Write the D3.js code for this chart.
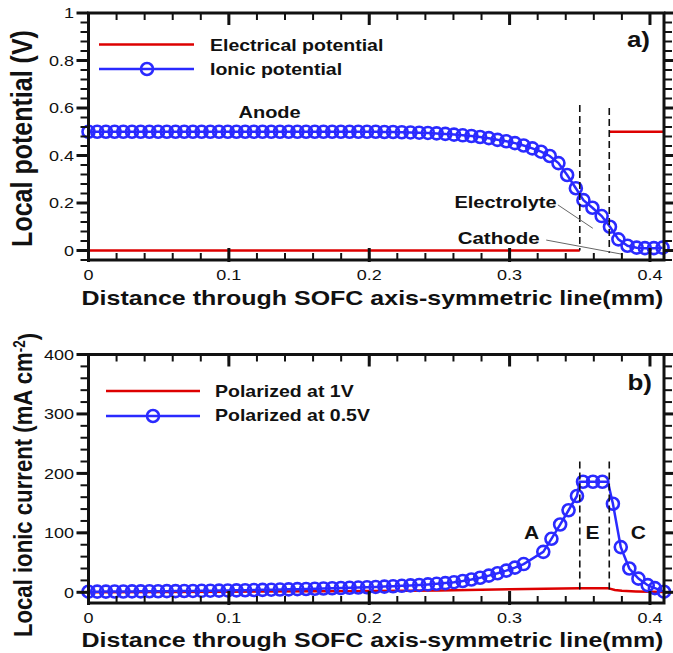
<!DOCTYPE html>
<html>
<head>
<meta charset="utf-8">
<script src="https://cdn.jsdelivr.net/npm/d3@7"></script>
<style>
  body { margin: 0; background: #fff; }
  text { font-family: "Liberation Sans", Arial, sans-serif; fill: #111; }
</style>
</head>
<body>
<div id="chart"></div>
<script>
// ---- panel a) : local potential ----
var potX = [0, 0.0062, 0.0124, 0.0186, 0.0248, 0.031, 0.0372, 0.0434, 0.0496, 0.0558,
  0.062, 0.0682, 0.0744, 0.0806, 0.0868, 0.093, 0.0992, 0.1054, 0.1116, 0.1178,
  0.124, 0.1302, 0.1364, 0.1426, 0.1488, 0.155, 0.1612, 0.1674, 0.1736, 0.1798,
  0.186, 0.1922, 0.1984, 0.2046, 0.2108, 0.217, 0.2232, 0.2294, 0.2356, 0.2418,
  0.248, 0.2542, 0.2604, 0.2666, 0.2728, 0.279, 0.2852, 0.2914, 0.2976, 0.3038,
  0.31, 0.3162, 0.3224, 0.3286, 0.3348, 0.341, 0.3472,
  0.3526, 0.359, 0.3656, 0.3715, 0.3775, 0.384, 0.3905, 0.3964, 0.4028, 0.409];
var ionicPot = [0.5, 0.5, 0.5, 0.5, 0.5, 0.5, 0.5, 0.5, 0.5, 0.5,
  0.5, 0.5, 0.5, 0.5, 0.5, 0.5, 0.5, 0.5, 0.5, 0.5,
  0.5, 0.5, 0.5, 0.5, 0.5, 0.5, 0.5, 0.5, 0.5, 0.5,
  0.5, 0.5, 0.5, 0.5, 0.499, 0.499, 0.498, 0.497, 0.496, 0.495,
  0.493, 0.491, 0.488, 0.485, 0.482, 0.478, 0.473, 0.466, 0.46, 0.452,
  0.442, 0.43, 0.416, 0.398, 0.368, 0.318, 0.262,
  0.212, 0.18, 0.145, 0.1, 0.047, 0.02, 0.012, 0.01, 0.01, 0.012];
// electrical potential: anode side, then cathode side (null = break)
var elecX = [0, 0.35, 0.36, 0.371, 0.41];
var elecPot = [0, 0, null, 0.5, 0.5];

// ---- panel b) : local ionic current ----
var curX = [0, 0.0062, 0.0124, 0.0186, 0.0248, 0.031, 0.0372, 0.0434, 0.0496, 0.0558,
  0.062, 0.0682, 0.0744, 0.0806, 0.0868, 0.093, 0.0992, 0.1054, 0.1116, 0.1178,
  0.124, 0.1302, 0.1364, 0.1426, 0.1488, 0.155, 0.1612, 0.1674, 0.1736, 0.1798,
  0.186, 0.1922, 0.1984, 0.2046, 0.2108, 0.217, 0.2232, 0.2294, 0.2356, 0.2418,
  0.248, 0.2542, 0.2604, 0.2666, 0.2728, 0.279, 0.2852, 0.2914, 0.2976, 0.3038,
  0.31, 0.324, 0.3298, 0.336, 0.342, 0.348, 0.35,
  0.3523, 0.3594, 0.3661, 0.37,
  0.3736, 0.3792, 0.3853, 0.3918, 0.3984, 0.4035, 0.41];
var cur05V = [1.0, 1.1, 1.2, 1.3, 1.4, 1.5, 1.6, 1.7, 1.8, 1.9,
  2.0, 2.1, 2.3, 2.5, 2.7, 2.9, 3.1, 3.3, 3.5, 3.8,
  4.1, 4.4, 4.7, 5.0, 5.3, 5.6, 6.0, 6.4, 6.8, 7.2,
  7.6, 8.0, 8.5, 9.0, 9.6, 10.2, 10.9, 11.6, 12.4, 13.3,
  14.3, 15.5, 17.0, 19.0, 21.5, 24.5, 28.0, 32.0, 36.5, 41.5,
  47.5, 68, 90, 114, 138, 162, 186,
  186, 186, 186, 186,
  149, 76, 40, 23, 12, 7, 1];
// 1 = node drawn with a symbol, 0 = interface node (line only)
var curMark = [1, 1, 1, 1, 1, 1, 1, 1, 1, 1,
  1, 1, 1, 1, 1, 1, 1, 1, 1, 1,
  1, 1, 1, 1, 1, 1, 1, 1, 1, 1,
  1, 1, 1, 1, 1, 1, 1, 1, 1, 1,
  1, 1, 1, 1, 1, 1, 1, 1, 1, 1,
  1, 1, 1, 1, 1, 1, 0,
  1, 1, 1, 0,
  1, 1, 1, 1, 1, 1, 1];
var cur1VX = [0, 0.1, 0.2, 0.25, 0.3, 0.35, 0.37, 0.375, 0.38, 0.39, 0.4, 0.41];
var cur1V = [0, 1, 2, 3, 5, 7, 7, 4, 2.5, 1.5, 1, 0.5];

// ticks
var xTicks = [0, 0.1, 0.2, 0.3, 0.4];
var xTickLabels = ["0", "0.1", "0.2", "0.3", "0.4"];
var potTicks = [0, 0.2, 0.4, 0.6, 0.8, 1];
var potTickLabels = ["0", "0.2", "0.4", "0.6", "0.8", "1"];
var curTicks = [0, 100, 200, 300, 400];
var curTickLabels = ["0", "100", "200", "300", "400"];

var svgWidth = 673;
var svgHeight = 653;
var blue = "#2a2aff";
var red = "#dd0000";
var squash = 0.84;   // the original figure is vertically compressed
var symR = 6;

var svg = d3.select("#chart")
  .append("svg")
  .attr("width", svgWidth)
  .attr("height", svgHeight);

var x = d3.scaleLinear().domain([0, 0.41]).range([88.5, 664]);
var yPot = d3.scaleLinear().domain([-0.04, 1]).range([260, 13]);
var yCur = d3.scaleLinear().domain([-18, 400]).range([603, 354.5]);

function label(g, px, py, str, size, weight, anchor, rotated) {
  return g.append("text")
    .attr("transform", `translate(${px},${py}) scale(1,${squash})` + (rotated ? " rotate(-90)" : ""))
    .attr("font-size", size + "px")
    .attr("font-weight", weight)
    .attr("text-anchor", anchor)
    .text(str);
}

function seg(g, x1, y1, x2, y2, w) {
  g.append("line")
    .attr("x1", x1).attr("y1", y1)
    .attr("x2", x2).attr("y2", y2)
    .attr("stroke", "#111").attr("stroke-width", w);
}

function drawBox(g, y, yMajor, yMinor) {
  var x0 = x.range()[0], x1 = x.range()[1];
  var yb = y.range()[0], yTop = y.range()[1];
  var xMinor = d3.range(0, 0.4101, 0.02);
  // top & bottom: inward
  xMinor.forEach(function(v) {
    seg(g, x(v), yb, x(v), yb - 7, 2);
    seg(g, x(v), yTop, x(v), yTop + 7, 2);
  });
  xTicks.forEach(function(v) {
    seg(g, x(v), yb + 2, x(v), yb - 12, 3);
    seg(g, x(v), yTop, x(v), yTop + 12, 3);
  });
  // left & right: outward
  yMinor.forEach(function(v) {
    seg(g, x0, y(v), x0 - 8, y(v), 2);
    seg(g, x1, y(v), x1 + 8, y(v), 2);
  });
  yMajor.forEach(function(v) {
    seg(g, x0, y(v), x0 - 12, y(v), 3);
    seg(g, x1, y(v), x1 + 11, y(v), 3);
  });
  g.append("rect")
    .attr("x", x0).attr("y", yTop)
    .attr("width", x1 - x0).attr("height", yb - yTop)
    .attr("fill", "none").attr("stroke", "#111").attr("stroke-width", 3);
}

function tickLabels(g, y, yVals, yLabs, xBase) {
  xTicks.forEach((v, i) => label(g, x(v), xBase, xTickLabels[i], 18, "normal", "middle"));
  yVals.forEach((v, i) => label(g, 74, y(v) + 5.4, yLabs[i], 18, "normal", "end"));
}

function symbols(g, y, xs, ys, marks) {
  g.append("g")
    .selectAll("circle")
    .data(xs.map((d, i) => ({x: d, y: ys[i], m: marks ? marks[i] : 1})).filter(d => d.m))
    .enter()
    .append("circle")
    .attr("cx", d => x(d.x))
    .attr("cy", d => y(d.y))
    .attr("r", symR)
    .attr("fill", "none")
    .attr("stroke", blue)
    .attr("stroke-width", 2.6);
}

function dashed(g, y, xv, y0, y1) {
  g.append("line")
    .attr("x1", x(xv)).attr("x2", x(xv))
    .attr("y1", y(y0)).attr("y2", y(y1))
    .attr("stroke", "#111").attr("stroke-width", 1.6)
    .attr("stroke-dasharray", "7,4");
}

// ================= panel a =================
var ga = svg.append("g");
var potLine = d3.line().defined(d => d[1] !== null).x(d => x(d[0])).y(d => yPot(d[1]));

ga.append("path")
  .datum(elecX.map((d, i) => [d, elecPot[i]]))
  .attr("d", potLine)
  .attr("fill", "none").attr("stroke", red).attr("stroke-width", 2.5);

ga.append("path")
  .datum(potX.map((d, i) => [d, ionicPot[i]]))
  .attr("d", potLine)
  .attr("fill", "none").attr("stroke", blue).attr("stroke-width", 2.5);

symbols(ga, yPot, potX, ionicPot);

dashed(ga, yPot, 0.35, 0.613, 0);
dashed(ga, yPot, 0.371, 0.6, -0.01);

// annotations
label(ga, x(0.129), yPot(0.558), "Anode", 20, "bold", "middle");
label(ga, x(0.3335), yPot(0.179), "Electrolyte", 20, "bold", "end");
label(ga, x(0.3214), yPot(0.027), "Cathode", 20.5, "bold", "end");
ga.append("line")
  .attr("x1", x(0.3344)).attr("y1", yPot(0.192))
  .attr("x2", x(0.3593)).attr("y2", yPot(0.0935))
  .attr("stroke", "#666").attr("stroke-width", 1);
ga.append("line")
  .attr("x1", x(0.3261)).attr("y1", yPot(0.044))
  .attr("x2", x(0.3795)).attr("y2", yPot(-0.015))
  .attr("stroke", "#666").attr("stroke-width", 1);

drawBox(ga, yPot, potTicks, d3.range(-0.04, 1.001, 0.04));
tickLabels(ga, yPot, potTicks, potTickLabels, 280);

// legend a
ga.append("line").attr("x1", 99).attr("x2", 194).attr("y1", 44.5).attr("y2", 44.5)
  .attr("stroke", red).attr("stroke-width", 2.5);
ga.append("line").attr("x1", 99).attr("x2", 194).attr("y1", 69).attr("y2", 69)
  .attr("stroke", blue).attr("stroke-width", 2.5);
ga.append("circle").attr("cx", 147).attr("cy", 69).attr("r", symR)
  .attr("fill", "none").attr("stroke", blue).attr("stroke-width", 2.6);
label(ga, 210, 50.7, "Electrical potential", 19.5, "bold", "start");
label(ga, 210, 74.5, "Ionic potential", 19.5, "bold", "start");
label(ga, 650, 47, "a)", 26, "bold", "end");

label(ga, 372.5, 305, "Distance through SOFC axis-symmetric line(mm)", 25, "bold", "middle");
label(ga, 32, 138.5, "Local potential (V)", 29.8, "bold", "middle", true);

// ================= panel b =================
var gb = svg.append("g");
var curLine = d3.line().x(d => x(d[0])).y(d => yCur(d[1]));

gb.append("path")
  .datum(cur1VX.map((d, i) => [d, cur1V[i]]))
  .attr("d", curLine)
  .attr("fill", "none").attr("stroke", red).attr("stroke-width", 2.5);

gb.append("path")
  .datum(curX.map((d, i) => [d, cur05V[i]]))
  .attr("d", curLine)
  .attr("fill", "none").attr("stroke", blue).attr("stroke-width", 2.5);

symbols(gb, yCur, curX, cur05V, curMark);

dashed(gb, yCur, 0.35, 220, 0);
dashed(gb, yCur, 0.371, 220, 0);

label(gb, x(0.3157), yCur(89), "A", 21, "bold", "middle");
label(gb, x(0.3591), yCur(89), "E", 21, "bold", "middle");
label(gb, x(0.3918), yCur(89), "C", 21, "bold", "middle");

drawBox(gb, yCur, curTicks, d3.range(0, 401, 20));
tickLabels(gb, yCur, curTicks, curTickLabels, 623);

// legend b
gb.append("line").attr("x1", 106).attr("x2", 200).attr("y1", 391).attr("y2", 391)
  .attr("stroke", red).attr("stroke-width", 2.5);
gb.append("line").attr("x1", 106).attr("x2", 200).attr("y1", 416).attr("y2", 416)
  .attr("stroke", blue).attr("stroke-width", 2.5);
gb.append("circle").attr("cx", 153).attr("cy", 416).attr("r", symR)
  .attr("fill", "none").attr("stroke", blue).attr("stroke-width", 2.6);
label(gb, 215, 397, "Polarized at 1V", 19.5, "bold", "start");
label(gb, 215, 421, "Polarized at 0.5V", 19.5, "bold", "start");
label(gb, 652, 390, "b)", 26, "bold", "end");

label(gb, 372.5, 647, "Distance through SOFC axis-symmetric line(mm)", 25, "bold", "middle");
var yTitle = label(gb, 32, 485, "Local ionic current (mA cm", 26.4, "bold", "middle", true);
yTitle.append("tspan").attr("dy", "-0.45em").attr("font-size", "16px").text("-2");
yTitle.append("tspan").attr("dy", "0.45em").text(")");
</script>
</body>
</html>
